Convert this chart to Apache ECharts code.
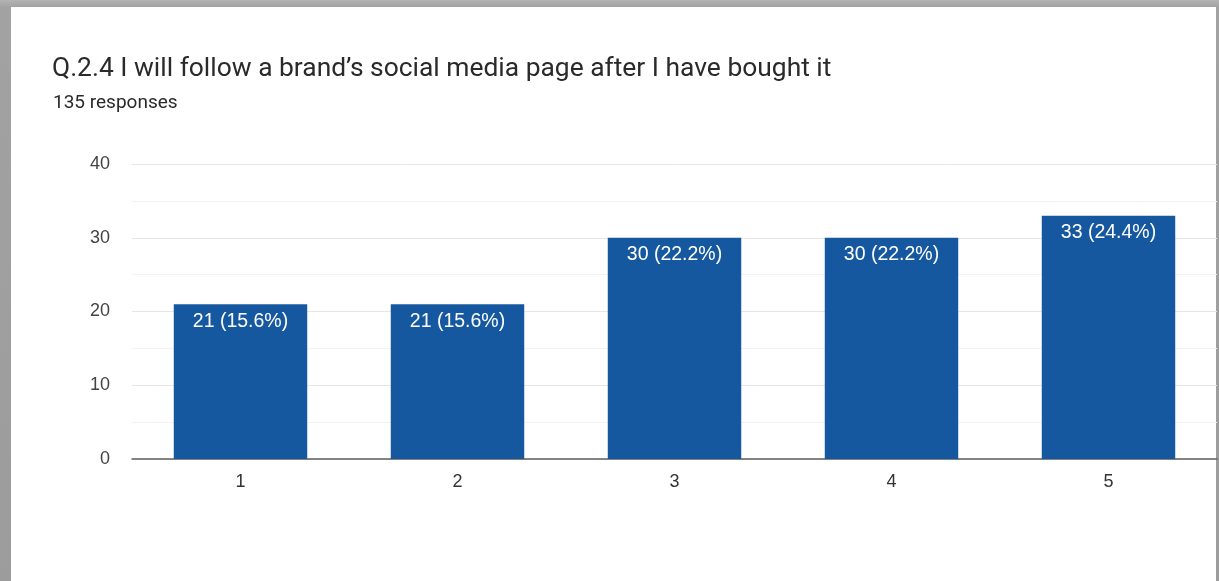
<!DOCTYPE html>
<html>
<head>
<meta charset="utf-8">
<script src="https://cdn.jsdelivr.net/npm/echarts@6/dist/echarts.min.js"></script>
<style>
  html, body { margin: 0; padding: 0; width: 1219px; height: 581px; overflow: hidden; }
  body { background: linear-gradient(to bottom, #b4b4b4 0px, #a2a2a2 7px, #9c9c9c 100%); position: relative; }
  #card { position: absolute; left: 11px; top: 7px; width: 1205px; height: 574px; background: #ffffff; }
  #chart { position: absolute; left: 0; top: 0; width: 1219px; height: 581px; }
</style>
</head>
<body>
<div id="card"></div>
<div id="chart"></div>
<script>
// Survey answers on a 1–5 scale and the number of respondents choosing each
const categories = ['1', '2', '3', '4', '5'];
const counts = [21, 21, 30, 30, 33];
const yTicks = [0, 10, 20, 30, 40];

const total = counts.reduce((a, b) => a + b, 0);

const chart = echarts.init(document.getElementById('chart'), null, { renderer: 'canvas' });

chart.setOption({
  backgroundColor: 'transparent',
  animation: false,
  title: [
    {
      text: 'Q.2.4 I will follow a brand\u2019s social media page after I have bought it',
      left: 47,
      top: 51,
      textStyle: { fontFamily: 'Roboto', fontSize: 26.4, fontWeight: 'normal', color: '#2a2a2a' }
    },
    {
      text: total + ' responses',
      left: 48,
      top: 89,
      textStyle: { fontFamily: 'Roboto', fontSize: 19, fontWeight: 'normal', color: '#2a2a2a' }
    }
  ],
  grid: { left: 132, right: 2, top: 164, bottom: 122, containLabel: false },
  xAxis: {
    type: 'category',
    data: categories,
    axisLine: { show: true, lineStyle: { color: '#5f5f5f', width: 1.5 } },
    axisTick: { show: false },
    axisLabel: { fontFamily: 'Liberation Sans, Arial', fontSize: 18, color: '#333', margin: 14 }
  },
  yAxis: {
    type: 'value',
    min: yTicks[0],
    max: yTicks[yTicks.length - 1],
    interval: 10,
    axisLine: { show: false },
    axisTick: { show: false },
    axisLabel: { fontFamily: 'Liberation Sans, Arial', fontSize: 18, color: '#444', margin: 22 },
    splitLine: { show: true, lineStyle: { color: '#e6e6e6', width: 1 } },
    minorTick: { show: false, splitNumber: 2 },
    minorSplitLine: { show: true, lineStyle: { color: '#f3f3f3', width: 1 } }
  },
  series: [{
    type: 'bar',
    data: counts,
    barCategoryGap: '38.5%',
    itemStyle: { color: '#1558a0' },
    label: {
      show: true,
      position: 'insideTop',
      distance: 7,
      fontFamily: 'Liberation Sans, Arial',
      fontSize: 19.5,
      color: '#ffffff',
      formatter: p => p.value + ' (' + (p.value / total * 100).toFixed(1) + '%)'
    }
  }]
});
</script>
</body>
</html>
